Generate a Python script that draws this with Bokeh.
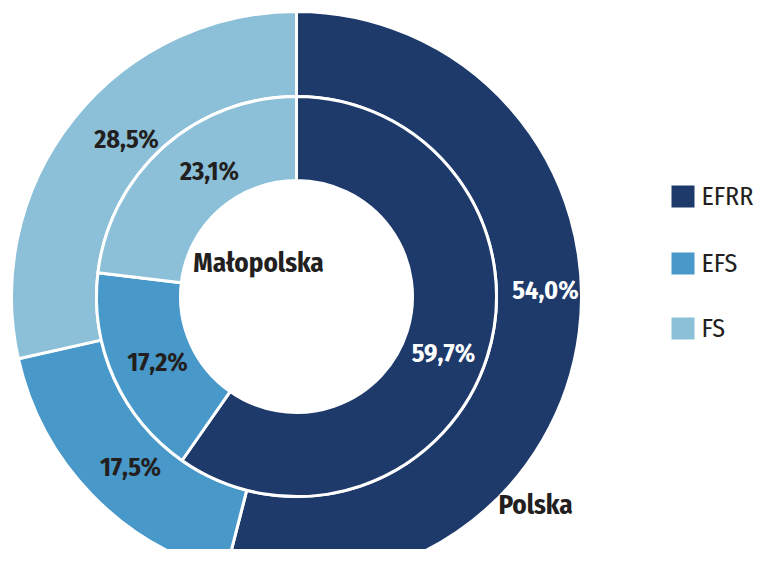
import numpy as np
from bokeh.plotting import figure
from bokeh.models import Range1d, ColumnDataSource
from bokeh.core.properties import value
from bokeh.embed import file_html
from bokeh.resources import INLINE

# ---- data ----
categories = ["EFRR", "EFS", "FS"]
polska = [54.0, 17.5, 28.5]        # outer ring
malopolska = [59.7, 17.2, 23.1]    # inner ring
ring_names = ["Małopolska", "Polska"]

# ---- styles / layout ----
colors = ["#1d3a6b", "#4899c9", "#8bc0d8"]
R_HOLE, R_MID, R_OUT = 116, 200, 285
inner_label_pos = [(147, -57), (-139, -66), (-87, 125)]
outer_label_pos = [(249, 6), (-166, -171), (-170, 157)]
inner_label_colors = ["white", "#231f20", "#231f20"]
outer_label_colors = ["white", "#231f20", "#231f20"]
name_pos = [(-38, 34), (239, -208)]
legend_sq_x = 386.5
legend_txt_x = 405
legend_y = [100, 33, -32]
FONT = "Fira Sans Condensed"


def angles(vals):
    tot = float(sum(vals))
    cum = np.concatenate([[0.0], np.cumsum(vals)]) / tot
    start = np.pi / 2 - 2 * np.pi * cum[1:]
    end = np.pi / 2 - 2 * np.pi * cum[:-1]
    return start, end


def fmt(v):
    return f"{v:.1f}".replace(".", ",") + "%"


W, H = 754, 549
p = figure(width=W, height=H, output_backend="svg", toolbar_location=None,
           x_range=Range1d(-296, -296 + W), y_range=Range1d(296 - H, 296),
           min_border=0, outline_line_color=None)
p.axis.visible = False
p.grid.visible = False
p.background_fill_color = "white"
p.border_fill_color = "white"

s_out, e_out = angles(polska)
src_out = ColumnDataSource(dict(start=s_out, end=e_out, color=colors, cat=categories))
p.annular_wedge(x=0, y=0, inner_radius=R_MID, outer_radius=R_OUT,
                start_angle="start", end_angle="end", direction="anticlock",
                fill_color="color", line_color="white", line_width=3, source=src_out)

s_in, e_in = angles(malopolska)
src_in = ColumnDataSource(dict(start=s_in, end=e_in, color=colors, cat=categories))
p.annular_wedge(x=0, y=0, inner_radius=R_HOLE, outer_radius=R_MID,
                start_angle="start", end_angle="end", direction="anticlock",
                fill_color="color", line_color="white", line_width=3, source=src_in)

lab = ColumnDataSource(dict(
    x=[q[0] for q in inner_label_pos] + [q[0] for q in outer_label_pos],
    y=[q[1] for q in inner_label_pos] + [q[1] for q in outer_label_pos],
    text=[fmt(v) for v in malopolska] + [fmt(v) for v in polska],
    color=inner_label_colors + outer_label_colors,
))
p.text(x="x", y="y", text="text", text_color="color", source=lab,
       text_align="center", text_baseline="middle",
       text_font=value(FONT), text_font_style="bold", text_font_size="26px")

names = ColumnDataSource(dict(x=[q[0] for q in name_pos], y=[q[1] for q in name_pos], text=ring_names))
p.text(x="x", y="y", text="text", source=names, text_color="#231f20",
       text_align="center", text_baseline="middle",
       text_font=value(FONT), text_font_style="bold", text_font_size="27px")

# legend (drawn as marks)
leg = ColumnDataSource(dict(x=[legend_sq_x] * 3, tx=[legend_txt_x] * 3, y=legend_y,
                            color=colors, text=categories))
p.rect(x="x", y="y", width=23, height=22, fill_color="color", line_color=None, source=leg)
p.text(x="tx", y="y", text="text", source=leg, text_color="#231f20",
       text_align="left", text_baseline="middle",
       text_font=value(FONT), text_font_size="26px")

open("out.html", "w").write(file_html(p, INLINE))
